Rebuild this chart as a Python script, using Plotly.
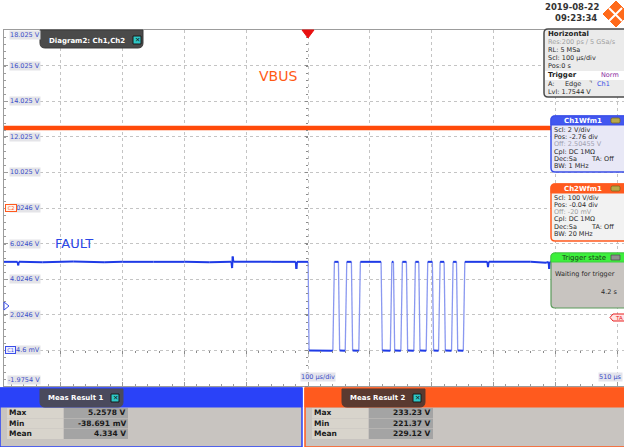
import plotly.graph_objects as go

# ---------------- data ----------------
# Ch1 (FAULT) waveform, time in microseconds, level in volts
fault_t = [-492, -470, -469, -468, -430, -380, -330, -300, -250, -200, -160,
           -124, -123, -122, -121, -60, -20, -19, -18, 0, 1.5,
           40, 42.5, 49, 51, 60, 62.5, 70, 72, 82, 84.5, 118, 120,
           133, 135.5, 138, 140, 150, 152.5, 159, 161, 171, 173.5, 179, 181,
           191, 193.5, 201, 203, 211, 213.5, 220, 222, 232, 234.5, 240, 242,
           251, 253.5, 290, 291, 292, 360, 385, 389, 390, 391, 450, 511]
fault_v = [5.0, 5.0, 4.8, 5.0, 4.98, 5.02, 4.97, 5.0, 5.0, 5.0, 4.98,
           5.0, 4.65, 5.3, 5.0, 5.0, 5.0, 4.6, 5.0, 5.0, 0.02,
           0.0, 5.0, 5.0, 0.02, 0.0, 5.0, 5.0, 0.02, 0.0, 5.0, 5.0, 0.02,
           0.0, 5.0, 5.0, 0.02, 0.0, 5.0, 5.0, 0.02, 0.0, 5.0, 5.0, 0.02,
           0.0, 5.0, 5.0, 0.02, 0.0, 5.0, 5.0, 0.02, 0.0, 5.0, 5.0, 0.02,
           0.0, 5.0, 5.0, 4.7, 5.0, 5.0, 4.95, 5.0, 4.6, 5.0, 5.0, 5.0]

# Ch2 (VBUS) waveform, volts
vbus_t = [-492, -300, -100, 0, 100, 300, 511]
vbus_v = [229.0, 229.5, 228.8, 229.2, 229.0, 229.3, 229.0]

# Ch1 vertical grid labels
ch1_label_values = [18.0246, 16.025, 14.025, 12.025, 10.025, 8.0246, 6.0246,
                    4.0246, 2.0246, 0.0246, -1.9754]
ch1_label_texts = ["18.025 V", "16.025 V", "14.025 V", "12.025 V", "10.025 V",
                   "8.0246 V", "6.0246 V", "4.0246 V", "2.0246 V", "4.6 mV",
                   "-1.9754 V"]

meas_labels = ["Max", "Min", "Mean"]
meas1_values = ["5.2578 V", "-38.691 mV", "4.334 V"]
meas2_values = ["233.23 V", "221.37 V", "229.12 V"]

ch1_info = ["Scl: 2 V/div", "Pos: -2.76 div", "Off: 2.50455 V", "Cpl: DC 1MΩ", "Dec:Sa", "BW: 1 MHz"]
ch2_info = ["Scl: 100 V/div", "Pos: -0.04 div", "Off: -20 mV", "Cpl: DC 1MΩ", "Dec:Sa", "BW: 20 MHz"]

# ---------------- layout helpers ----------------
W, H = 624, 447
L, T, R, B = 4, 30, 0, 61
PW, PH = W - L - R, H - T - B
FONT = "DejaVu Sans"
XR = [-492, 511]
YR = [-1.9754, 18.0246]


def X(px):
    return (px - L) / PW


def Y(py):
    return (H - B - py) / PH


def P(px, py):
    return f"{X(px):.5f},{Y(py):.5f}"


def rpath(x0, y0, x1, y1, rt=0, rb=0):
    return (f"M {P(x0 + rt, y0)} L {P(x1 - rt, y0)} Q {P(x1, y0)} {P(x1, y0 + rt)} "
            f"L {P(x1, y1 - rb)} Q {P(x1, y1)} {P(x1 - rb, y1)} L {P(x0 + rb, y1)} "
            f"Q {P(x0, y1)} {P(x0, y1 - rb)} L {P(x0, y0 + rt)} Q {P(x0, y0)} {P(x0 + rt, y0)} Z")


shapes = []
annos = []


def shp_path(path, fill, line=None, lw=0):
    shapes.append(dict(type="path", path=path, xref="paper", yref="paper",
                       fillcolor=fill, line=dict(color=line or fill, width=lw), layer="above"))


def shp_rect(x0, y0, x1, y1, fill, line=None, lw=0):
    shapes.append(dict(type="rect", x0=X(x0), x1=X(x1), y0=Y(y0), y1=Y(y1),
                       xref="paper", yref="paper", fillcolor=fill,
                       line=dict(color=line or fill, width=lw), layer="above"))


def txt(s, px, py, size=6.5, color="#2a2a2a", xanchor="left", bold=False, bg=None,
        family=FONT, border=None, width=None, height=None):
    d = dict(text=f"<b>{s}</b>" if bold else s, x=X(px), y=Y(py), xref="paper", yref="paper",
             xanchor=xanchor, yanchor="middle", showarrow=False,
             font=dict(size=size, color=color, family=family), borderpad=0)
    if bg:
        d["bgcolor"] = bg
    if border:
        d["bordercolor"] = border
        d["borderwidth"] = 1
    if width:
        d["width"] = width
    if height:
        d["height"] = height
    annos.append(d)


def xicon(x0, y0):
    shp_rect(x0, y0, x0 + 8, y0 + 8, "#2ec8c8", "#1a1a1a", 1)
    txt("✕", x0 + 4, y0 + 4.3, size=6.5, color="#111", xanchor="center", bold=True)


def v2py(v):
    return (H - B) - (v - YR[0]) / (YR[1] - YR[0]) * PH


# ---------------- traces ----------------
lev_x, lev_y, tr_x, tr_y = [], [], [], []
for i in range(len(fault_t) - 1):
    if abs(fault_v[i + 1] - fault_v[i]) < 1:
        lev_x += [fault_t[i], fault_t[i + 1], None]
        lev_y += [fault_v[i], fault_v[i + 1], None]
    else:
        tr_x += [fault_t[i], fault_t[i + 1], None]
        tr_y += [fault_v[i], fault_v[i + 1], None]

fig = go.Figure()
fig.add_trace(go.Scatter(x=vbus_t, y=vbus_v, yaxis="y2", mode="lines",
                         line=dict(color="#ff4a0a", width=4.5), hoverinfo="skip", showlegend=False))
fig.add_trace(go.Scatter(x=tr_x, y=tr_y, mode="lines",
                         line=dict(color="#8a98f0", width=1.3), hoverinfo="skip", showlegend=False))
fig.add_trace(go.Scatter(x=lev_x, y=lev_y, mode="lines",
                         line=dict(color="#1f3be6", width=2), hoverinfo="skip", showlegend=False))
# helper traces to activate the centre tick axes
fig.add_trace(go.Scatter(x=[0], y=[5], xaxis="x2", mode="markers", marker=dict(opacity=0),
                         hoverinfo="skip", showlegend=False))
fig.add_trace(go.Scatter(x=[0], y=[5], yaxis="y3", mode="markers", marker=dict(opacity=0),
                         hoverinfo="skip", showlegend=False))

AX = "#9c9c9c"
GRID = "#c4c4c4"

fig.update_layout(
    width=W, height=H, margin=dict(l=L, r=R, t=T, b=B),
    paper_bgcolor="white", plot_bgcolor="white",
    showlegend=False,
    xaxis=dict(range=XR, tick0=0, dtick=100, showgrid=True, gridcolor=GRID, griddash="dot",
               gridwidth=1, zeroline=False, showticklabels=False, showline=True, linecolor=AX,
               linewidth=1, mirror=True, ticks="inside", ticklen=4, tickcolor=AX,
               minor=dict(dtick=20, ticks="inside", ticklen=2, tickcolor=AX, showgrid=False)),
    yaxis=dict(range=YR, tick0=0.0246, dtick=2, showgrid=True, gridcolor=GRID, griddash="dot",
               gridwidth=1, zeroline=False, showticklabels=False, showline=True, linecolor=AX,
               linewidth=1, ticks="inside", ticklen=4, tickcolor=AX,
               minor=dict(dtick=0.4, ticks="inside", ticklen=2, tickcolor=AX, showgrid=False)),
    yaxis2=dict(range=[-496, 504], overlaying="y", visible=False),
    xaxis2=dict(range=XR, overlaying="x", anchor="free", position=0.1, tick0=0, dtick=100,
                showgrid=False, zeroline=False, showline=False, showticklabels=False,
                ticks="outside", ticklen=3, tickcolor="#8a8a8a",
                minor=dict(dtick=20, ticks="outside", ticklen=2, tickcolor="#8a8a8a")),
    yaxis3=dict(range=YR, overlaying="y", anchor="free", position=X(308), side="left",
                tick0=0.0246, dtick=2, showgrid=False, zeroline=False, showline=False,
                showticklabels=False, ticks="outside", ticklen=3,
                tickcolor="#8a8a8a",
                minor=dict(dtick=0.4, ticks="outside", ticklen=2, tickcolor="#8a8a8a")),
)

# ---------------- decorations ----------------
# y-grid labels
for v, s in zip(ch1_label_values, ch1_label_texts):
    py = v2py(v)
    if v == ch1_label_values[0]:
        py += 5
    elif v == ch1_label_values[-1]:
        py -= 6
    txt(s, 41, py, size=6.5, color="#3a4ec8", xanchor="right", bg="#e4e4e8")

# channel ground markers (drawn over the labels)
txt("C2", 10.5, 207.5, size=5, color="#ff5a1e", xanchor="center", bg="#fff4ee",
    border="#ff5a1e", width=10, height=6)
txt("C1", 10, 350, size=5, color="#3a4ee8", xanchor="center", bg="#eef0ff",
    border="#3a4ee8", width=9, height=6)
# trigger level marker
shp_path(f"M {P(4, 302)} L {P(9, 306)} L {P(4, 310)} Z", "white", "#3a4ee8", 1)
# trigger position marker
shp_path(f"M {P(302, 30)} L {P(314, 30)} L {P(308, 38)} Z", "#e81010", "#e81010", 1)

# channel labels
txt("VBUS", 258, 76, size=14, color="#ff5a14")
txt("FAULT", 54, 243, size=13, color="#2a46e6")

# time labels
txt("100 µs/div", 300, 377, size=6.5, color="#3a4ec8", bg="#e4e4ec")
txt("510 µs", 623, 377, size=6.5, color="#3a4ec8", xanchor="right", bg="#e4e4ec")

# diagram tab
shp_path(rpath(40, 30, 143, 48, 0, 5), "#4a4a4a", "#3a3a3a", 1)
txt("Diagram2: Ch1,Ch2", 48, 40.5, size=7, color="white", bold=True)
xicon(133, 36)

# date / logo
txt("2019-08-22", 572, 7, size=8.5, color="#333", xanchor="center", bold=True)
txt("09:23:34", 576, 18, size=8.5, color="#333", xanchor="center", bold=True)
shp_path(f"M {P(616, 1)} L {P(629, 14)} L {P(616, 27)} L {P(603, 14)} Z", "#ff6a1a", "#ff6a1a", 1)
shapes.append(dict(type="path", path=f"M {P(609, 8)} L {P(622, 21)} M {P(622, 8)} L {P(609, 21)}",
                   xref="paper", yref="paper", line=dict(color="white", width=2), layer="above"))

# Horizontal panel
shp_path(rpath(544, 29, 630, 97, 4, 4), "#ebebeb", "#4a4a4a", 1.5)
txt("Horizontal", 547, 33.5, size=7, color="#222", bold=True)
txt("Res:200 ps / 5 GSa/s", 547, 42, size=6.5, color="#a0a0a0")
txt("RL: 5 MSa", 547, 50, size=6.5)
txt("Scl: 100 µs/div", 547, 58, size=6.5)
txt("Pos:0 s", 547, 66, size=6.5)
shp_rect(545, 71, 630, 80, "white")
txt("Trigger", 547, 75.5, size=7, color="#222", bold=True)
txt("Norm", 600, 75.5, size=6.5, color="#8a2aa0")
txt("A:", 547, 84, size=6.5)
txt("Edge", 564, 84, size=6.5)
txt("⌝", 588, 84, size=7, color="#555")
txt("Ch1", 596, 84, size=6.5, color="#3a4ee8")
txt("Lvl: 1.7544 V", 547, 92, size=6.5)

# Ch1 panel
shp_path(rpath(551, 116, 630, 172, 4, 4), "#e8e8f6", "#3a4ee8", 1.5)
shp_path(rpath(551, 116, 630, 125, 4, 0), "#4257f0", "#3a4ee8", 1)
txt("Ch1Wfm1", 583, 120.8, size=7, color="white", xanchor="center", bold=True)
shp_path(rpath(611, 118, 620, 123, 1.5, 1.5), "#b8a848", "#7a6a20", 0.8)
ch_y = [129.5, 137, 144.3, 151.5, 158.7, 165.8]
for s, yy in zip(ch1_info, ch_y):
    txt(s, 553, yy, size=6.5, color="#a0a0b0" if s.startswith("Off") else "#2a2a2a")
txt("TA: Off", 590, ch_y[4], size=6.5)

# Ch2 panel
shp_path(rpath(551, 184, 630, 241, 4, 4), "#f2f2f2", "#ff5a1e", 1.5)
shp_path(rpath(551, 184, 630, 193, 4, 0), "#ff5a1e", "#ff5a1e", 1)
txt("Ch2Wfm1", 583, 188.8, size=7, color="white", xanchor="center", bold=True)
shp_path(rpath(611, 186, 620, 191, 1.5, 1.5), "#b8a848", "#7a6a20", 0.8)
ch2_y = [197.5, 205, 212.2, 219.5, 226.8, 234.3]
for s, yy in zip(ch2_info, ch2_y):
    txt(s, 553, yy, size=6.5, color="#a0a0a0" if s.startswith("Off") else "#2a2a2a")
txt("TA: Off", 590, ch2_y[4], size=6.5)

# Trigger state panel
shp_path(rpath(551, 253, 630, 308, 4, 4), "#c8c4c0", "#5a9a5a", 1.2)
shp_path(rpath(551, 253, 630, 262, 4, 0), "#3cf03c", "#3cd03c", 1)
txt("Trigger state", 583, 257.6, size=7, color="#1a3a1a", xanchor="center")
shp_rect(611, 255, 620, 260, "#909090", "#505050", 0.8)
txt("Waiting for trigger", 554, 274, size=6.5, color="#2a2a2a")
txt("4.2 s", 618, 292, size=6.5, color="#2a2a2a", xanchor="right")

# TA marker
shp_path(f"M {P(610, 317.5)} L {P(613, 314)} L {P(630, 314)} L {P(630, 321)} L {P(613, 321)} Z",
         "#ffe4e4", "#e82020", 1)
txt("TA", 614, 317.7, size=5.5, color="#e82020")


# Meas panels
def meas_panel(x0, x1, band, tab, tab_x0, label, values):
    shp_rect(x0, 388, x1, 447, "#c8c4c0", band, 1.5)
    shp_rect(x0, 388, x1, 407, band, band, 1)
    shp_path(rpath(tab_x0, 389, tab_x0 + 83, 407, 0, 5), tab, tab, 1)
    txt(label, tab_x0 + 7, 398, size=7, color="white", bold=True)
    xicon(tab_x0 + 71, 394)
    rows = [413, 423.5, 434]
    for lab, val, yy in zip(meas_labels, values, rows):
        shp_rect(x0 + 7, yy - 5, x0 + 63, yy + 5, "#d8d4cc")
        shp_rect(x0 + 64, yy - 5, x0 + 128, yy + 5, "#a4a4a4")
        txt(lab, x0 + 8, yy, size=7.5, color="#1a1a1a", bold=True)
        txt(val, x0 + 127, yy, size=7.5, color="#1a1a1a", bold=True, xanchor="right")


meas_panel(0, 302, "#2a42f8", "#4a4a5c", 40, "Meas Result 1", meas1_values)
meas_panel(305, 630, "#ff5a1e", "#5a3a30", 342, "Meas Result 2", meas2_values)

fig.update_layout(shapes=shapes, annotations=annos)
fig.write_html("out.html", config={"displayModeBar": False},
               post_script="document.body.style.margin='0px';document.body.style.overflow='hidden';")
